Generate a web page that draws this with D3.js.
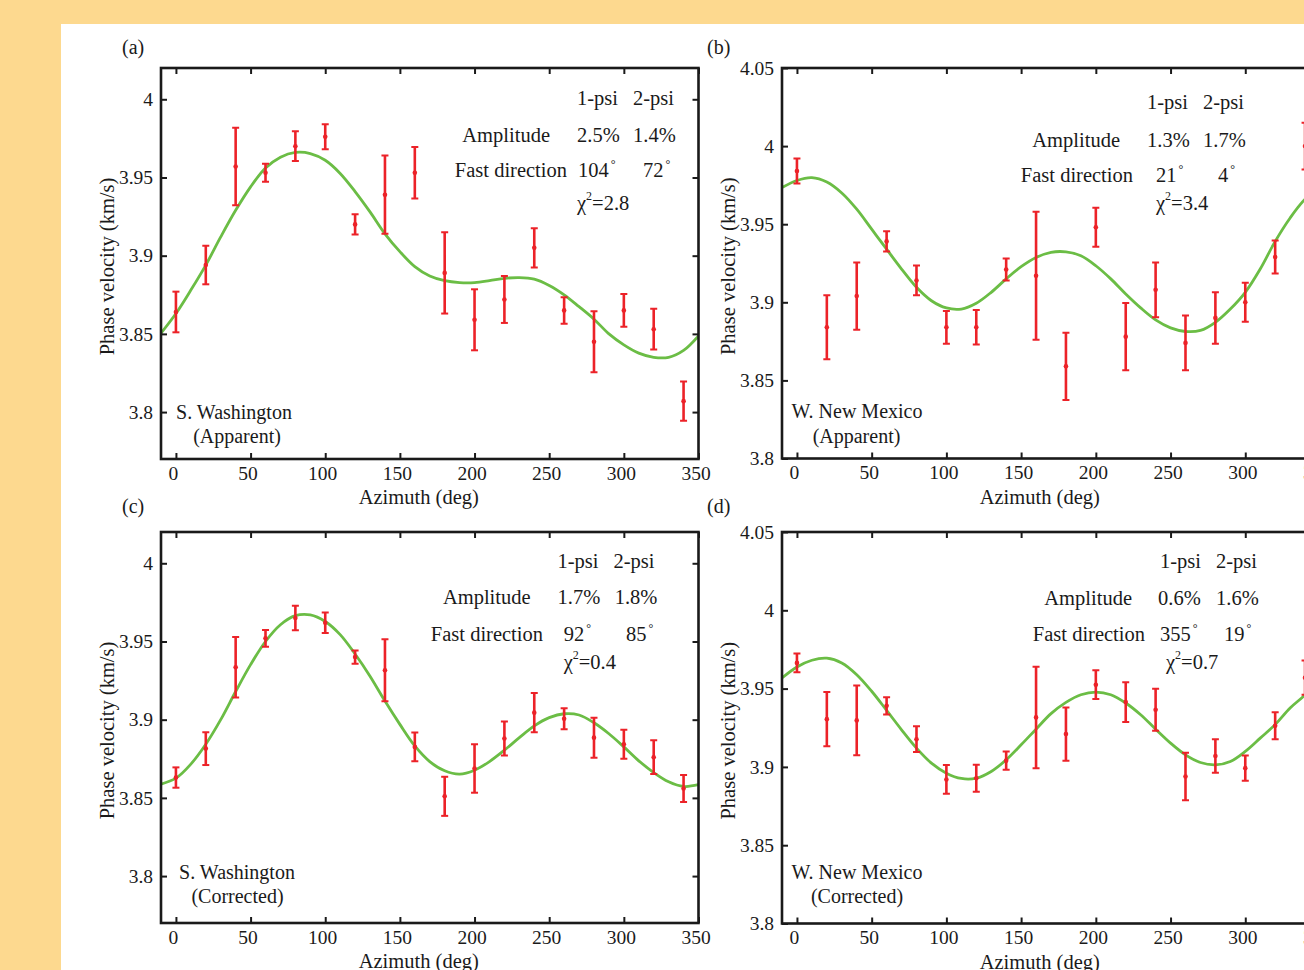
<!DOCTYPE html>
<html><head><meta charset="utf-8">
<script src="https://cdn.jsdelivr.net/npm/d3@7"></script>
<style>html,body{margin:0;padding:0;background:#FDD98F;overflow:hidden}</style>
</head><body>
<svg id="chart" width="1304" height="970"></svg>
<script>
// ---------------- DATA ----------------
const azimuth = [0,20,40,60,80,100,120,140,160,180,200,220,240,260,280,300,320,340];
const curveAzimuth = [-10,0,10,20,30,40,50,60,70,80,90,100,110,120,130,140,150,160,170,180,190,200,210,220,230,240,250,260,270,280,290,300,310,320,330,340,350];

// (a) S. Washington, apparent
const velA = [3.864,3.894,3.957,3.953,3.970,3.976,3.920,3.939,3.953,3.889,3.859,3.872,3.905,3.865,3.845,3.865,3.853,3.807];
const errA = [0.013,0.0123,0.0248,0.0058,0.0095,0.008,0.0065,0.025,0.0165,0.026,0.0195,0.015,0.0125,0.0085,0.0195,0.0105,0.013,0.0125];
const fitA = [3.8504,3.863,3.878,3.894,3.912,3.929,3.944,3.956,3.963,3.966,3.9653,3.961,3.9526,3.941,3.928,3.914,3.9026,3.893,3.887,3.884,3.8828,3.8828,3.884,3.8855,3.886,3.885,3.881,3.875,3.8674,3.8594,3.850,3.843,3.8377,3.835,3.835,3.8394,3.8487];

// (b) W. New Mexico, apparent
const velB = [3.984,3.884,3.904,3.939,3.914,3.884,3.884,3.921,3.917,3.859,3.948,3.878,3.908,3.874,3.890,3.900,3.929,4.000];
const errB = [0.008,0.0205,0.0215,0.0065,0.0095,0.0105,0.011,0.007,0.041,0.0215,0.0125,0.0215,0.0175,0.0175,0.0165,0.0125,0.0105,0.015];
const fitB = [3.9734,3.978,3.9798,3.977,3.970,3.9596,3.9468,3.934,3.9213,3.9096,3.901,3.8964,3.8957,3.8994,3.9064,3.915,3.9228,3.9287,3.932,3.9323,3.9298,3.9234,3.915,3.9053,3.8964,3.8887,3.8836,3.8813,3.882,3.8872,3.8957,3.9064,3.9213,3.939,3.954,3.966,3.9734];

// (c) S. Washington, corrected
const velC = [3.863,3.8815,3.9335,3.952,3.965,3.962,3.940,3.9316,3.8826,3.851,3.8688,3.888,3.9045,3.9006,3.8885,3.8843,3.876,3.856];
const errC = [0.0065,0.0105,0.0193,0.0053,0.0078,0.0065,0.0042,0.0198,0.0092,0.0125,0.0155,0.0109,0.0125,0.0067,0.0128,0.0093,0.0108,0.0087];
const fitC = [3.8588,3.8626,3.8716,3.8843,3.900,3.918,3.9352,3.950,3.9607,3.9665,3.967,3.9628,3.9544,3.942,3.9278,3.9119,3.897,3.8832,3.8732,3.8673,3.8652,3.8677,3.8732,3.8805,3.8885,3.896,3.9013,3.9038,3.903,3.898,3.891,3.8826,3.8737,3.8662,3.8603,3.8573,3.8584];

// (d) W. New Mexico, corrected
const velD = [3.9664,3.9305,3.9297,3.939,3.9177,3.892,3.8928,3.904,3.9316,3.921,3.9525,3.9414,3.9365,3.8939,3.907,3.8992,3.9263,3.957];
const errD = [0.006,0.0173,0.0222,0.0055,0.0082,0.0092,0.0086,0.0058,0.0324,0.017,0.0092,0.0127,0.0134,0.0152,0.0107,0.008,0.0086,0.0109];
const fitD = [3.9568,3.9638,3.9681,3.9694,3.9664,3.9589,3.9483,3.9361,3.9237,3.912,3.9024,3.896,3.8926,3.8928,3.8971,3.9045,3.9141,3.9241,3.934,3.9412,3.9461,3.9478,3.9461,3.9408,3.9333,3.9241,3.9152,3.9077,3.9028,3.9013,3.9035,3.9099,3.9184,3.927,3.9376,3.946,3.9568];

const xTicks = [0,50,100,150,200,250,300,350];
const yTicksWashington = [3.8,3.85,3.9,3.95,4];
const yTicksMexico = [3.8,3.85,3.9,3.95,4,4.05];
const xDomain = [-10,350];
const yDomainWashington = [3.77,4.02];
const yDomainMexico = [3.8,4.05];

const panelLetters = ["(a)","(b)","(c)","(d)"];
const siteNames = ["S. Washington","W. New Mexico","S. Washington","W. New Mexico"];
const siteModes = ["(Apparent)","(Apparent)","(Corrected)","(Corrected)"];
const amplitude1psi = ["2.5%","1.3%","1.7%","0.6%"];
const amplitude2psi = ["1.4%","1.7%","1.8%","1.6%"];
const fastDir1psi = ["104°","21°","92°","355°"];
const fastDir2psi = ["72°","4°","85°","19°"];
const chiSquared = ["2.8","3.4","0.4","0.7"];
const xTitle = "Azimuth (deg)";
const yTitle = "Phase velocity (km/s)";

// ---------------- LAYOUT ----------------
const panels = [
  {x0:161, x1:698.5, y0:68, y1:459, yDomain:yDomainWashington, yTicks:yTicksWashington, vel:velA, err:errA, fit:fitA,
   lx:122, ly:47,
   ann:{h1:416,h2:472,ampEnd:389,fastEnd:406,a1:416,a2:472,f1:417,f2:482,chi:416,rows:[30,67,102,135],site:[73,76],siteRows:[344,368]}},
  {x0:782, x1:1320, y0:68, y1:458.5, yDomain:yDomainMexico, yTicks:yTicksMexico, vel:velB, err:errB, fit:fitB,
   lx:707, ly:47,
   ann:{h1:365,h2:421,ampEnd:338,fastEnd:351,a1:365,a2:421,f1:374,f2:436,chi:374,rows:[34,72,107,135],site:[75,74.5],siteRows:[343,368]}},
  {x0:161, x1:698.5, y0:532, y1:923, yDomain:yDomainWashington, yTicks:yTicksWashington, vel:velC, err:errC, fit:fitC,
   lx:122, ly:506,
   ann:{h1:396.5,h2:452.5,ampEnd:369.6,fastEnd:382,a1:396.5,a2:453.7,f1:402.7,f2:465,chi:402.7,rows:[29,65,102,130],site:[76,76.5],siteRows:[340,364]}},
  {x0:782, x1:1320, y0:532, y1:923.5, yDomain:yDomainMexico, yTicks:yTicksMexico, vel:velD, err:errD, fit:fitD,
   lx:707, ly:506,
   ann:{h1:378,h2:434,ampEnd:350,fastEnd:363,a1:376,a2:434,f1:378,f2:442,chi:384,rows:[29,66,102,130],site:[75,75],siteRows:[340,364]}}
];

const FONT = "'Liberation Serif','Times New Roman',Times,serif";
const RED = "#EC2228";
const GREEN = "#6BBD45";
const INK = "#1a1a1a";

const svg = d3.select("#chart");
svg.append("rect").attr("x",61).attr("y",24).attr("width",1304).attr("height",970).attr("fill","#ffffff");

const fmtY = d => String(+d.toFixed(2));

panels.forEach((p, i) => {
  const x = d3.scaleLinear().domain(xDomain).range([p.x0, p.x1]);
  const y = d3.scaleLinear().domain(p.yDomain).range([p.y1, p.y0]);
  const g = svg.append("g");

  const clipId = "clip" + i;
  svg.append("clipPath").attr("id", clipId).append("rect")
    .attr("x", p.x0).attr("y", p.y0).attr("width", p.x1 - p.x0).attr("height", p.y1 - p.y0);

  // fitted curve
  const line = d3.line().x(d => x(d[0])).y(d => y(d[1])).curve(d3.curveCatmullRom.alpha(0.5));
  g.append("path")
    .datum(curveAzimuth.map((a, k) => [a, p.fit[k]]))
    .attr("clip-path", `url(#${clipId})`)
    .attr("d", line).attr("fill","none").attr("stroke",GREEN).attr("stroke-width",2.8);

  // error bars
  const bars = g.append("g").attr("clip-path", `url(#${clipId})`);
  azimuth.forEach((a, k) => {
    const v = p.vel[k], e = p.err[k];
    const cx = x(a);
    bars.append("line").attr("x1",cx).attr("x2",cx).attr("y1",y(v-e)).attr("y2",y(v+e))
      .attr("stroke",RED).attr("stroke-width",2.6);
    [v-e, v+e].forEach(t => {
      bars.append("line").attr("x1",cx-3.5).attr("x2",cx+3.5).attr("y1",y(t)).attr("y2",y(t))
        .attr("stroke",RED).attr("stroke-width",2);
    });
    bars.append("circle").attr("cx",cx).attr("cy",y(v)).attr("r",2.3).attr("fill",RED);
  });

  // axes (ticks inward on all four sides)
  const styleAxis = sel => {
    sel.select(".domain").remove();
    sel.selectAll(".tick line").attr("stroke",INK).attr("stroke-width",2);
    sel.selectAll("text").attr("font-family",FONT).attr("font-size","19.5px").attr("fill",INK);
  };
  g.append("g").attr("transform",`translate(0,${p.y1})`)
    .call(d3.axisBottom(x).tickValues(xTicks).tickSize(-6).tickPadding(7).tickFormat(d3.format("d")))
    .call(styleAxis).selectAll("text").attr("dx","-3");
  g.append("g").attr("transform",`translate(0,${p.y0})`)
    .call(d3.axisTop(x).tickValues(xTicks).tickSize(-6).tickFormat(""))
    .call(styleAxis);
  g.append("g").attr("transform",`translate(${p.x0},0)`)
    .call(d3.axisLeft(y).tickValues(p.yTicks).tickSize(-6).tickPadding(8).tickFormat(fmtY))
    .call(styleAxis);
  g.append("g").attr("transform",`translate(${p.x1},0)`)
    .call(d3.axisRight(y).tickValues(p.yTicks).tickSize(-6).tickFormat(""))
    .call(styleAxis);

  // frame
  g.append("rect").attr("x",p.x0).attr("y",p.y0).attr("width",p.x1-p.x0).attr("height",p.y1-p.y0)
    .attr("fill","none").attr("stroke",INK).attr("stroke-width",2.6);

  const txt = (tx, ty, s, anchor, size) => g.append("text")
    .attr("x",tx).attr("y",ty).attr("text-anchor",anchor||"start")
    .attr("dominant-baseline","central")
    .attr("font-family",FONT).attr("font-size",(size||20.5)+"px").attr("fill",INK).text(s);

  // value with a small raised degree sign
  const degTxt = (tx, ty, s) => {
    const t = txt(tx, ty, s.replace("°", ""));
    if (s.includes("°")) {
      t.append("tspan").attr("font-size","12px").attr("dx","2").attr("dy","-6").text("°");
    }
    return t;
  };

  // axis titles
  txt((p.x0 + p.x1) / 2 - 11 - ((p.x1 - p.x0) - 537.5) / 2, p.y1 + 38, xTitle, "middle");
  g.append("text").attr("transform",`translate(${p.x0 - 54},${(p.y0 + p.y1) / 2 + 3}) rotate(-90)`)
    .attr("text-anchor","middle").attr("dominant-baseline","central")
    .attr("font-family",FONT).attr("font-size","20.5px").attr("fill",INK).text(yTitle);

  // panel letter
  txt(p.lx, p.ly, panelLetters[i], "start", 20);

  // annotation table
  const A = p.ann, X = p.x0, Y = p.y0;
  txt(X + A.h1, Y + A.rows[0], "1-psi");
  txt(X + A.h2, Y + A.rows[0], "2-psi");
  txt(X + A.ampEnd, Y + A.rows[1], "Amplitude", "end");
  txt(X + A.a1, Y + A.rows[1], amplitude1psi[i]);
  txt(X + A.a2, Y + A.rows[1], amplitude2psi[i]);
  txt(X + A.fastEnd, Y + A.rows[2], "Fast direction", "end");
  degTxt(X + A.f1, Y + A.rows[2], fastDir1psi[i]);
  degTxt(X + A.f2, Y + A.rows[2], fastDir2psi[i]);
  const chi = txt(X + A.chi, Y + A.rows[3], "χ");
  chi.append("tspan").attr("font-size","12px").attr("dy","-7").text("2");
  chi.append("tspan").attr("dy","7").text("=" + chiSquared[i]);

  // site label
  txt(X + A.site[0], Y + A.siteRows[0], siteNames[i], "middle", 20);
  txt(X + A.site[1], Y + A.siteRows[1], siteModes[i], "middle", 20);
});
</script>
</body></html>
